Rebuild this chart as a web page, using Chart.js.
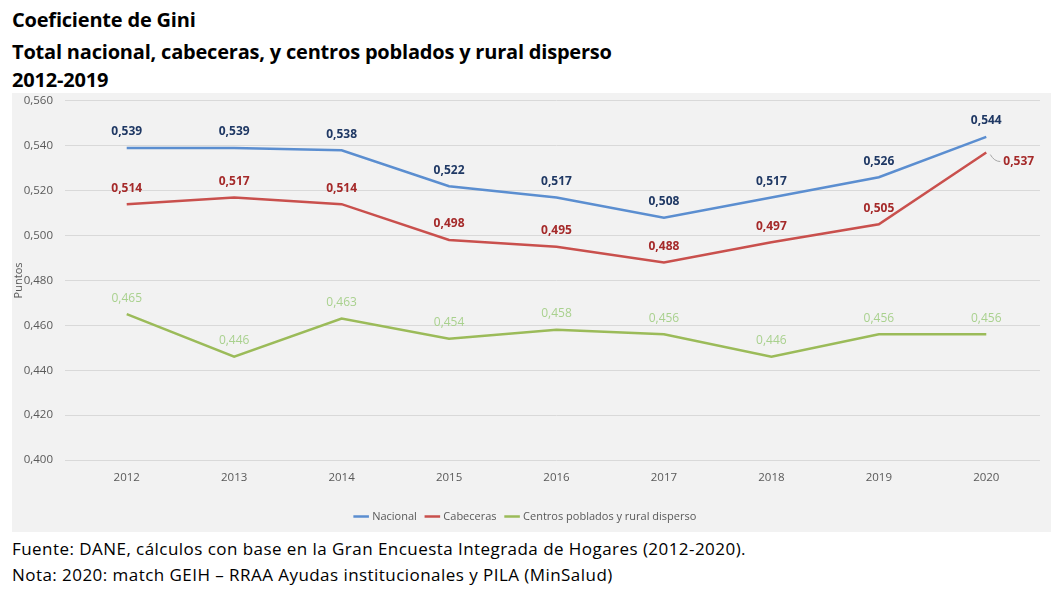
<!DOCTYPE html>
<html><head><meta charset="utf-8">
<script src="https://cdn.jsdelivr.net/npm/chart.js@4/dist/chart.umd.min.js"></script>
<style>
html,body{margin:0;padding:0;background:#fff;}
body{width:1061px;height:597px;position:relative;overflow:hidden;}
.t{position:absolute;left:12px;font-family:"Open Sans",sans-serif;font-weight:bold;font-size:20px;color:#000;white-space:nowrap;line-height:24px;letter-spacing:-0.2px;}
.f{position:absolute;left:12px;font-family:"Open Sans",sans-serif;font-size:17px;color:#000;white-space:nowrap;line-height:20px;letter-spacing:0.45px;}
#wrap{position:absolute;left:12px;top:93px;width:1039px;height:439px;background:#f2f2f2;}
#c{position:absolute;left:0;top:-11px;}
</style></head>
<body>
<div class="t" style="top:8px">Coeficiente de Gini</div>
<div class="t" style="top:40px">Total nacional, cabeceras, y centros poblados y rural disperso</div>
<div class="t" style="top:68px">2012-2019</div>
<div id="wrap"><canvas id="c" width="1039" height="450"></canvas></div>
<div class="f" style="top:539px">Fuente: DANE, cálculos con base en la Gran Encuesta Integrada de Hogares (2012-2020).</div>
<div class="f" style="top:565px">Nota: 2020: match GEIH – RRAA Ayudas institucionales y PILA (MinSalud)</div>
<script>
const years = ['2012','2013','2014','2015','2016','2017','2018','2019','2020'];
const nacional = [0.539,0.539,0.538,0.522,0.517,0.508,0.517,0.526,0.544];
const cabeceras = [0.514,0.517,0.514,0.498,0.495,0.488,0.497,0.505,0.537];
const rural = [0.465,0.446,0.463,0.454,0.458,0.456,0.446,0.456,0.456];
const seriesNames = ['Nacional','Cabeceras','Centros poblados y rural disperso'];

const fmt = v => v.toFixed(3).replace('.', ',');

const labelStyles = [
  {color:'#1f3864', weight:'bold'},
  {color:'#a52a2a', weight:'bold'},
  {color:'#a9d18e', weight:'normal'}
];

const labelPlugin = {
  id:'labels',
  afterDatasetsDraw(chart){
    const ctx = chart.ctx;
    chart.data.datasets.forEach((ds, di) => {
      const meta = chart.getDatasetMeta(di);
      const st = labelStyles[di];
      ctx.save();
      ctx.font = st.weight + ' 12px "Open Sans", sans-serif';
      ctx.fillStyle = st.color;
      ctx.textAlign = 'center';
      ctx.textBaseline = 'middle';
      meta.data.forEach((pt, i) => {
        const v = ds.data[i];
        if (di === 1 && i === ds.data.length - 1) {
          ctx.save();
          ctx.strokeStyle = '#a6a6a6';
          ctx.lineWidth = 1;
          ctx.beginPath();
          ctx.moveTo(pt.x + 4, pt.y + 2);
          ctx.quadraticCurveTo(pt.x + 8, pt.y + 9, pt.x + 14, pt.y + 9);
          ctx.stroke();
          ctx.restore();
          ctx.textAlign = 'left';
          ctx.fillText(fmt(v), pt.x + 17, pt.y + 9);
          ctx.textAlign = 'center';
        } else {
          ctx.fillText(fmt(v), pt.x, pt.y - 16);
        }
      });
      ctx.restore();
    });
  }
};

new Chart(document.getElementById('c'), {
  type:'line',
  data:{
    labels: years,
    datasets:[
      {label:seriesNames[0], data:nacional, borderColor:'#5b8ed0', backgroundColor:'#5b8ed0', borderWidth:2.5, pointRadius:0, tension:0},
      {label:seriesNames[1], data:cabeceras, borderColor:'#c9504d', backgroundColor:'#c9504d', borderWidth:2.5, pointRadius:0, tension:0},
      {label:seriesNames[2], data:rural, borderColor:'#9bbb59', backgroundColor:'#9bbb59', borderWidth:2.5, pointRadius:0, tension:0}
    ]
  },
  options:{
    responsive:false,
    animation:false,
    layout:{padding:{top:0,right:11,bottom:0,left:0}},
    plugins:{
      legend:{position:'bottom', labels:{usePointStyle:true, pointStyle:'line', boxWidth:28, padding:10, color:'#595959', font:{family:'"Open Sans", sans-serif', size:11}}},
      tooltip:{enabled:false}
    },
    scales:{
      x:{
        offset:true,
        grid:{display:false, offset:true},
        border:{display:false},
        ticks:{color:'#595959', font:{family:'"Open Sans", sans-serif', size:11.5}, padding:3},
        afterFit(s){ s.height = 41; }
      },
      y:{
        min:0.4, max:0.56,
        grid:{color:'#d9d9d9', lineWidth:1},
        border:{display:false},
        ticks:{stepSize:0.02, color:'#595959', font:{family:'"Open Sans", sans-serif', size:11.5}, padding:12, callback:v=>fmt(v)},
        title:{display:true, text:'Puntos', color:'#595959', font:{family:'"Open Sans", sans-serif', size:11}, padding:0},
        afterFit(s){ s.width = 61; }
      }
    }
  },
  plugins:[labelPlugin]
});
</script>
</body></html>
